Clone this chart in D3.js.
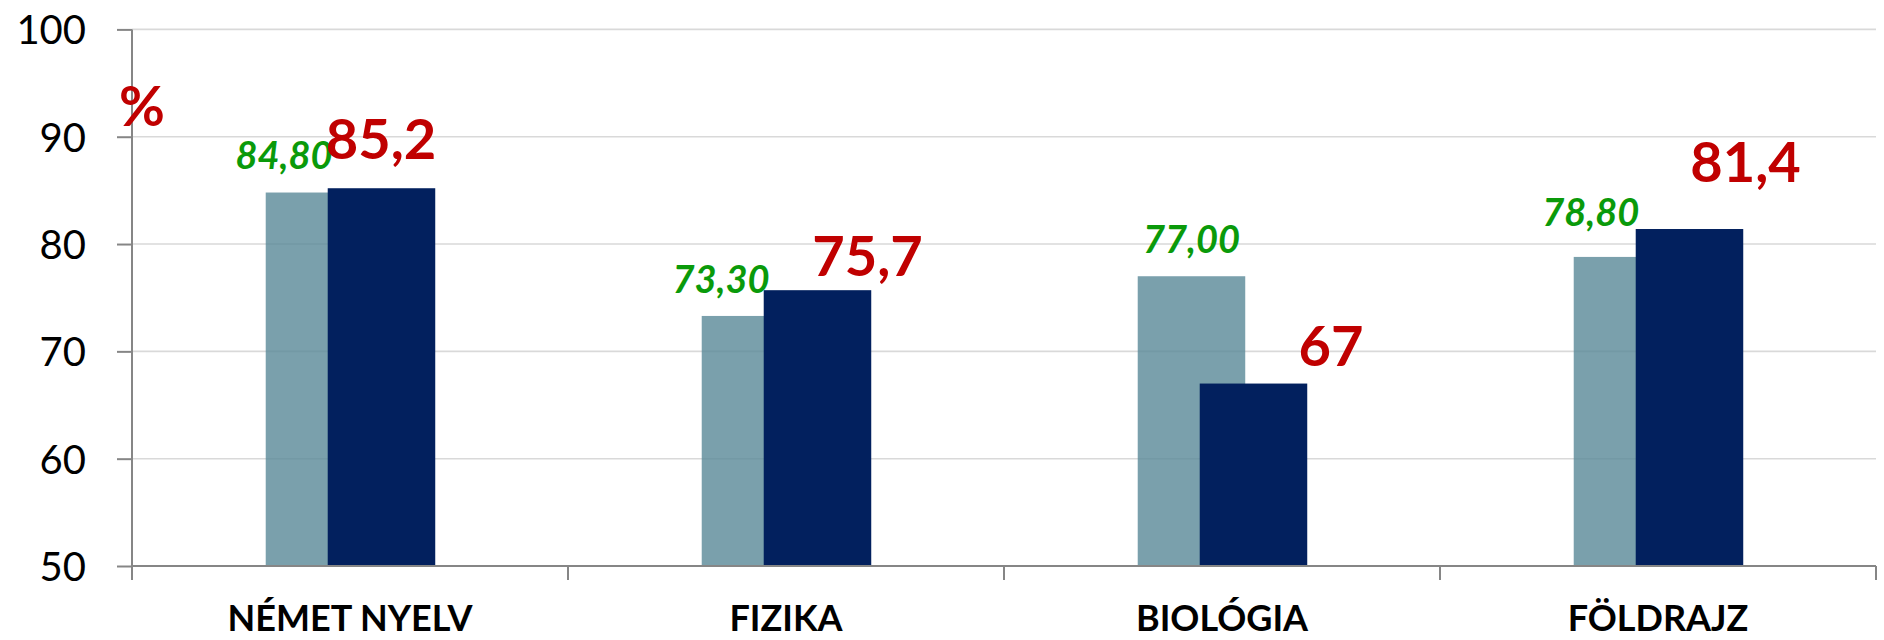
<!DOCTYPE html>
<html>
<head>
<meta charset="utf-8">
<script src="https://cdn.jsdelivr.net/npm/d3@7"></script>
<style>
  html, body { margin: 0; padding: 0; background: #ffffff; }
  svg { display: block; }
</style>
</head>
<body>
<svg id="chart" width="1884" height="640"></svg>
<script>
// ---- data ----
const categories = ["NÉMET NYELV", "FIZIKA", "BIOLÓGIA", "FÖLDRAJZ"];
const seriesLight = [84.80, 73.30, 77.00, 78.80];   // green italic labels
const seriesDark  = [85.2, 75.7, 67, 81.4];         // red labels
const yTicks = [50, 60, 70, 80, 90, 100];
const yUnit = "%";

// ---- layout ----
const W = 1884, H = 640;
const plot = { left: 132, right: 1876, top: 29.4, bottom: 566 };
const svg = d3.select("#chart");

const x = d3.scaleBand().domain(categories).range([plot.left, plot.right]).padding(0);
const y = d3.scaleLinear().domain([50, 100]).range([plot.bottom, plot.top]);

const bw = x.bandwidth();
const barW = bw * 0.2466;
const lightOff = bw * 0.3067;
const darkOff = lightOff + bw * 0.1422;

// manual label nudges (dx from bar centre, gap of baseline above bar top)
const lightNudge = [[-35.5, 24], [-34.5, 23.3], [0, 23.6], [-36.7, 31]];
const darkNudge  = [[-0.5, 29], [50, 14.5], [77.5, 18], [56, 47.4]];

// gridlines
svg.append("g").selectAll("line")
  .data(yTicks.filter(t => t > 50))
  .join("line")
  .attr("x1", plot.left).attr("x2", plot.right)
  .attr("y1", d => y(d)).attr("y2", d => y(d))
  .attr("stroke", "#d9d9d9").attr("stroke-width", 1.6);

// y axis (ticks + labels)
const yAxis = svg.append("g")
  .attr("transform", `translate(${plot.left},0)`)
  .call(d3.axisLeft(y).tickValues(yTicks).tickSize(15).tickPadding(31).tickSizeOuter(0));
yAxis.select(".domain").remove();
yAxis.selectAll(".tick line").attr("stroke", "#868686").attr("stroke-width", 2);
yAxis.selectAll(".tick text")
  .attr("font-family", "Lato, 'Noto Sans', sans-serif")
  .attr("font-size", 40).attr("fill", "#000").attr("dy", "0.36em");

// bars
const g = svg.append("g");
g.selectAll("rect.light")
  .data(categories)
  .join("rect").attr("class", "light")
  .attr("x", d => x(d) + lightOff)
  .attr("width", barW)
  .attr("y", (d, i) => y(seriesLight[i]))
  .attr("height", (d, i) => y(50) - y(seriesLight[i]))
  .attr("fill", "rgb(89,136,151)").attr("fill-opacity", 0.8);

g.selectAll("rect.dark")
  .data(categories)
  .join("rect").attr("class", "dark")
  .attr("x", d => x(d) + darkOff)
  .attr("width", barW)
  .attr("y", (d, i) => y(seriesDark[i]))
  .attr("height", (d, i) => y(50) - y(seriesDark[i]))
  .attr("fill", "#02205e");

// x axis line + boundary ticks
svg.append("line")
  .attr("x1", plot.left).attr("x2", plot.right)
  .attr("y1", y(50)).attr("y2", y(50))
  .attr("stroke", "#868686").attr("stroke-width", 2);
const bounds = categories.map(c => x(c)).concat([x.range()[1]]);
svg.append("g").selectAll("line")
  .data(bounds)
  .join("line")
  .attr("x1", d => d).attr("x2", d => d)
  .attr("y1", y(50)).attr("y2", y(50) + 14)
  .attr("stroke", "#868686").attr("stroke-width", 2);
// y axis line
svg.append("line")
  .attr("x1", plot.left).attr("x2", plot.left)
  .attr("y1", y(100)).attr("y2", y(50) + 14)
  .attr("stroke", "#868686").attr("stroke-width", 2);

// category labels
const xAxis = svg.append("g")
  .attr("transform", `translate(0,${y(50)})`)
  .call(d3.axisBottom(x).tickSize(0).tickPadding(0));
xAxis.select(".domain").remove();
xAxis.selectAll(".tick text")
  .attr("y", 65).attr("dy", 0)
  .attr("font-family", "Lato, 'Noto Sans', sans-serif")
  .attr("font-weight", "bold")
  .attr("font-size", 36).attr("fill", "#000");

// value labels
const fmtLight = v => d3.format(".2f")(v).replace(".", ",");
const fmtDark = v => String(v).replace(".", ",");

svg.append("g").selectAll("text")
  .data(categories)
  .join("text")
  .attr("x", (d, i) => x(d) + lightOff + barW / 2 + lightNudge[i][0])
  .attr("y", (d, i) => y(seriesLight[i]) - lightNudge[i][1])
  .attr("text-anchor", "middle")
  .attr("font-family", "Lato, 'Noto Sans', sans-serif")
  .attr("font-style", "italic").attr("font-weight", "bold")
  .attr("font-size", 38).attr("fill", "#0a9a0a")
  .text((d, i) => fmtLight(seriesLight[i]));

svg.append("g").selectAll("text")
  .data(categories)
  .join("text")
  .attr("x", (d, i) => x(d) + darkOff + barW / 2 + darkNudge[i][0])
  .attr("y", (d, i) => y(seriesDark[i]) - darkNudge[i][1])
  .attr("text-anchor", "middle")
  .attr("font-family", "Lato, 'Noto Sans', sans-serif")
  .attr("font-weight", "bold")
  .attr("font-size", 56).attr("fill", "#c00000")
  .text((d, i) => fmtDark(seriesDark[i]));

// unit label
svg.append("text")
  .attr("x", 119).attr("y", 126)
  .attr("font-family", "Lato, 'Noto Sans', sans-serif")
  .attr("font-weight", "bold")
  .attr("font-size", 56).attr("fill", "#c00000")
  .text(yUnit);
</script>
</body>
</html>
